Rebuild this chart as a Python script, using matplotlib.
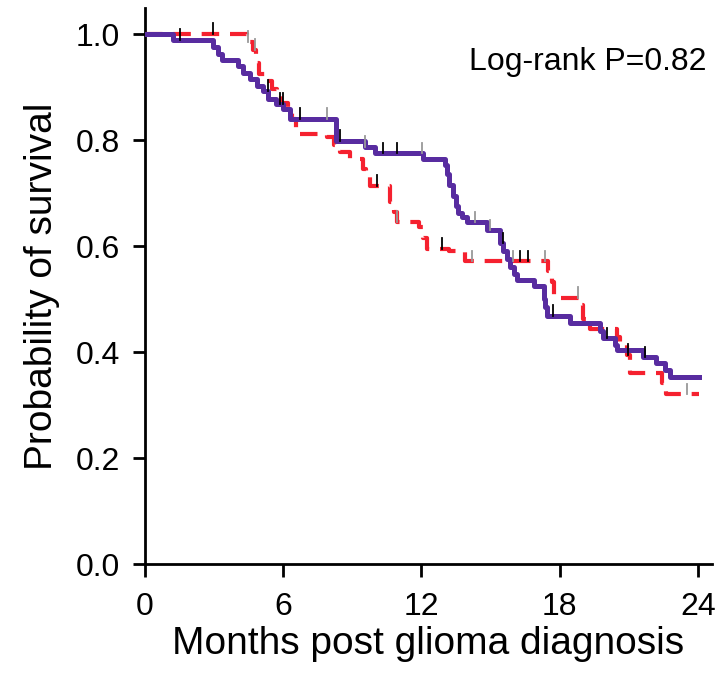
import numpy as np
import matplotlib
matplotlib.use('Agg')
import matplotlib.pyplot as plt

plt.rcParams['font.family'] = ['Liberation Sans', 'DejaVu Sans']

# step curve for group shown as solid purple line (time in months, survival after the drop)
purple_t = [0, 1.2, 2.95, 3.15, 3.35, 4.04, 4.25, 4.56, 4.85, 5.1, 5.35, 5.7, 6.0, 6.3,
            8.3, 9.55, 10.0, 12.07, 13.02, 13.1, 13.2, 13.35, 13.5, 13.6, 13.75, 13.98,
            14.84, 15.4, 15.55, 15.7, 15.85, 16.0, 16.15, 16.9, 17.3, 17.38, 17.45,
            18.45, 19.75, 19.9, 20.4, 20.5, 21.6, 22.2, 22.57, 22.8, 24.05]
purple_s = [1.0, 0.989, 0.975, 0.962, 0.951, 0.94, 0.927, 0.915, 0.902, 0.893, 0.878, 0.868, 0.859, 0.84,
            0.798, 0.787, 0.775, 0.765, 0.752, 0.735, 0.715, 0.695, 0.675, 0.663, 0.655, 0.645,
            0.63, 0.605, 0.59, 0.575, 0.56, 0.548, 0.536, 0.525, 0.50, 0.484, 0.468,
            0.455, 0.44, 0.426, 0.413, 0.403, 0.39, 0.379, 0.366, 0.353, 0.353]

# step curve for group shown as dashed red line
red_t = [0, 4.43, 4.7, 4.8, 4.95, 5.3, 5.5, 5.75, 5.9, 6.2, 6.4, 6.55, 7.9, 8.2, 8.45, 8.9,
         9.46, 9.6, 9.77, 10.63, 10.8, 10.94, 11.9, 12.05, 12.24, 13.2, 13.9, 17.5, 17.65,
         17.75, 18.85, 19.0, 19.3, 20.5, 20.6, 20.9, 21.05, 22.45, 22.6, 24.05]
red_s = [1.0, 0.985, 0.97, 0.945, 0.925, 0.912, 0.896, 0.885, 0.87, 0.855, 0.84, 0.812, 0.806, 0.79, 0.778, 0.765,
         0.746, 0.73, 0.714, 0.683, 0.665, 0.646, 0.635, 0.615, 0.595, 0.591, 0.571, 0.552, 0.533,
         0.502, 0.488, 0.463, 0.443, 0.428, 0.413, 0.395, 0.36, 0.341, 0.32, 0.32]

# censor marks (time, colour)
purple_cens = [1.52, 5.34, 5.86, 5.99, 6.73, 7.9, 8.46, 9.55, 10.33, 10.94, 12.02, 14.32, 14.97,
               15.54, 17.7, 20.05, 21.7]
purple_cens_col = ['k', 'k', 'k', 'k', 'k', '0.6', 'k', '0.6', 'k', 'k', '0.6', '0.6', '0.6',
                   'k', 'k', 'k', 'k']
red_cens = [2.95, 4.47, 4.77, 10.07, 10.94, 12.89, 14.19, 15.97, 16.28, 16.62, 17.36, 18.8, 20.96, 23.52]
red_cens_col = ['k', '0.6', '0.6', 'k', '0.6', 'k', '0.6', '0.6', 'k', 'k', '0.6', '0.6', 'k', '0.6']

purple = '#582ca0'
red = '#f5212f'

fig = plt.figure(figsize=(7.2, 6.87), dpi=100)
ax = fig.add_axes([145/720, 1-564/687, (712-145)/720, (564-8)/687])


def surv_at(ts, ss, t):
    i = np.searchsorted(ts, t, side='right') - 1
    return ss[i]


ax.step(red_t, red_s, where='post', color=red, lw=3.0, dashes=(4.2, 2.6), zorder=3)
ax.step(purple_t, purple_s, where='post', color=purple, lw=3.6, zorder=4)

for t, c in zip(red_cens, red_cens_col):
    s = surv_at(red_t, red_s, t)
    ax.plot([t, t], [s, s + 0.02], color=c, lw=1.3, zorder=5)
for t, c in zip(purple_cens, purple_cens_col):
    s = surv_at(purple_t, purple_s, t)
    ax.plot([t, t], [s, s + 0.02], color=c, lw=1.3, zorder=5)

ax.set_xlim(0, (712-145)/23.04)
ax.set_ylim(0, (564-8)/530)
ax.set_xticks([0, 6, 12, 18, 24])
ax.set_yticks([0.0, 0.2, 0.4, 0.6, 0.8, 1.0])
ax.set_yticklabels(['0.0', '0.2', '0.4', '0.6', '0.8', '1.0'])
for sp in ['top', 'right']:
    ax.spines[sp].set_visible(False)
for sp in ['left', 'bottom']:
    ax.spines[sp].set_linewidth(2.0)
ax.tick_params(direction='out', length=9, width=2.0, labelsize=23)
ax.tick_params(axis='x', pad=11)
ax.tick_params(axis='y', pad=9)

ax.set_xlabel('Months post glioma diagnosis', fontsize=28, labelpad=3)
ax.set_ylabel('Probability of survival', fontsize=28, labelpad=11)

ax.text(0.99, 0.93, 'Log-rank P=0.82', transform=ax.transAxes, ha='right', va='top', fontsize=23)

fig.savefig('out.png', dpi=100)
